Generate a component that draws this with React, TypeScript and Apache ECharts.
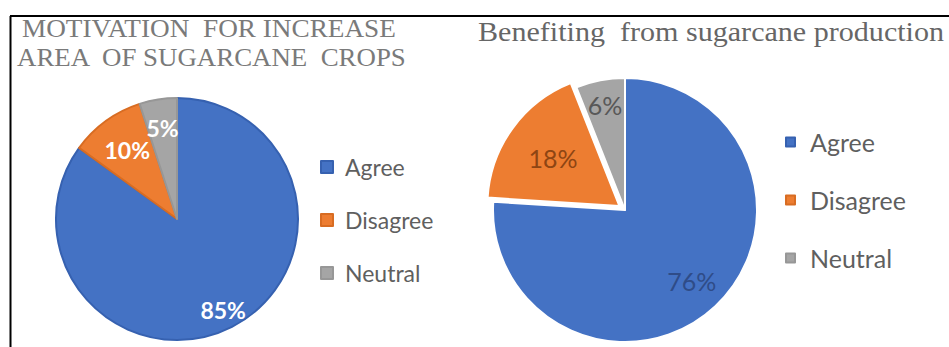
import React, { useEffect, useRef } from "react";
import * as echarts from "echarts";

const categories = ["Agree", "Disagree", "Neutral"];
const motivationValues = [85, 10, 5];
const benefitValues = [76, 18, 6];
const motivationTitleLines = ["MOTIVATION  FOR INCREASE", "AREA  OF SUGARCANE  CROPS"];
const benefitTitle = "Benefiting  from sugarcane production";

const sliceColors = ["#4472C4", "#ED7D31", "#A5A5A5"];
const leftBorderColors = ["#3661B0", "#D86C22", "#979797"];
const rightLabelColors = ["#2F4C88", "#8E4513", "#585858"];

// offset of a label from its base position (at distance `base` from the
// centre) to a fraction of the radius along the slice's mid angle
function labelOffsets(values: number[], radius: number, fractions: number[], base: number) {
  const total = values.reduce((a, b) => a + b, 0);
  let acc = 0;
  return values.map((v, i) => {
    const mid = ((acc + v / 2) / total) * Math.PI * 2;
    acc += v;
    const d = fractions[i] * radius - base;
    return [d * Math.sin(mid), -d * Math.cos(mid)];
  });
}

export default function App() {
  const ref = useRef<HTMLDivElement>(null);

  useEffect(() => {
    if (!ref.current) return;
    const chart = echarts.init(ref.current, undefined, { renderer: "svg" });

    const leftR = 121;
    const rightR = 132;
    const leftOffsets = labelOffsets(motivationValues, leftR, [0.84, 0.7, 0.76], 0);
    const rightOffsets = labelOffsets(benefitValues, rightR, [0.74, 0.62, 0.81], rightR * 0.5 + 3);

    chart.setOption({
      animation: false,
      backgroundColor: "#ffffff",
      color: sliceColors,
      legend: [
        {
          orient: "vertical",
          left: 320,
          top: 155,
          padding: 0,
          itemWidth: 12,
          itemHeight: 12,
          itemGap: 29,
          icon: "rect",
          selectedMode: false,
          data: categories,
          textStyle: {
            fontFamily: "Lato",
            fontSize: 23,
            lineHeight: 24,
            color: "#5f5f5f",
            padding: [0, 0, 0, 7],
          },
        },
        {
          orient: "vertical",
          left: 785,
          top: 129,
          padding: 0,
          itemWidth: 9,
          itemHeight: 9,
          itemGap: 32,
          icon: "rect",
          selectedMode: false,
          data: categories,
          textStyle: {
            fontFamily: "Lato",
            fontSize: 25,
            lineHeight: 26,
            color: "#5f5f5f",
            padding: [0, 0, 0, 10],
          },
        },
      ],
      graphic: [
        {
          type: "line",
          shape: { x1: 10, y1: 16, x2: 949, y2: 16 },
          style: { stroke: "#000", lineWidth: 2 },
        },
        {
          type: "line",
          shape: { x1: 10.5, y1: 16, x2: 10.5, y2: 347 },
          style: { stroke: "#000", lineWidth: 2 },
        },
        {
          type: "text",
          x: 22,
          y: 29,
          scaleX: 1.09,
          style: {
            text: motivationTitleLines[0],
            fontFamily: "Liberation Serif",
            fontSize: 25,
            fill: "#7a7a7a",
            verticalAlign: "middle",
          },
        },
        {
          type: "text",
          x: 17,
          y: 58,
          scaleX: 1.075,
          style: {
            text: motivationTitleLines[1],
            fontFamily: "Liberation Serif",
            fontSize: 25,
            fill: "#7a7a7a",
            verticalAlign: "middle",
          },
        },
        {
          type: "text",
          x: 478,
          y: 31,
          scaleX: 1.075,
          style: {
            text: benefitTitle,
            fontFamily: "Liberation Serif",
            fontSize: 28,
            fill: "#666666",
            verticalAlign: "middle",
          },
        },
      ],
      series: [
        {
          type: "pie",
          center: [177, 219],
          radius: leftR,
          startAngle: 90,
          clockwise: true,
          silent: true,
          avoidLabelOverlap: false,
          labelLayout: { hideOverlap: false },
          labelLine: { show: false },
          data: categories.map((name, i) => ({
            name,
            value: motivationValues[i],
            itemStyle: {
              color: sliceColors[i],
              borderColor: leftBorderColors[i],
              borderWidth: 2,
            },
            label: {
              show: true,
              position: "center",
              offset: leftOffsets[i],
              formatter: "{c}%",
              fontFamily: "Lato",
              fontWeight: "bold",
              fontSize: 23,
              color: "#ffffff",
            },
          })),
        },
        {
          type: "pie",
          center: [625, 210],
          radius: rightR,
          startAngle: 90,
          clockwise: true,
          selectedMode: "single",
          selectedOffset: 7,
          avoidLabelOverlap: false,
          labelLayout: { hideOverlap: false },
          labelLine: { show: false },
          itemStyle: { borderColor: "#ffffff", borderWidth: 2 },
          data: categories.map((name, i) => {
            const label = {
              show: true,
              position: "inside",
              offset: rightOffsets[i],
              formatter: "{c}%",
              fontFamily: "Lato",
              fontSize: 25,
              color: rightLabelColors[i],
            };
            return {
              name,
              value: benefitValues[i],
              selected: name === "Disagree",
              itemStyle: { color: sliceColors[i] },
              label,
              select: { label: { offset: rightOffsets[i] } },
            };
          }),
        },
      ],
    });

    return () => chart.dispose();
  }, []);

  return (
    <div
      ref={ref}
      style={{ position: "fixed", left: 0, top: 0, width: 949, height: 347, background: "#fff" }}
    />
  );
}
